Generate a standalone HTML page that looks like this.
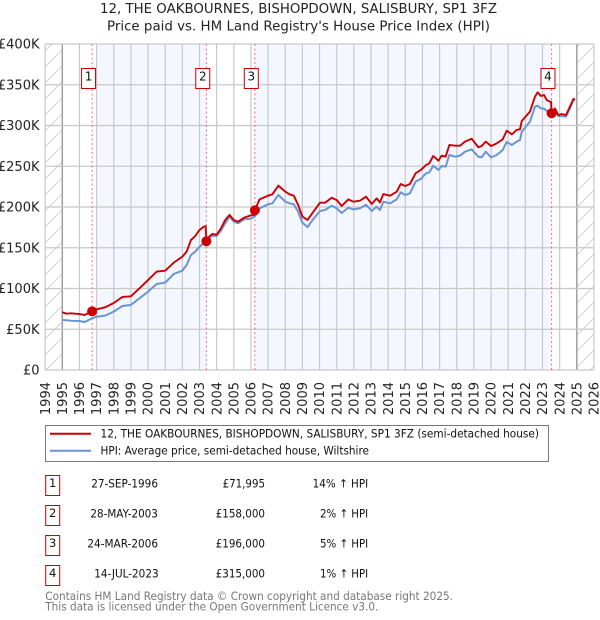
<!DOCTYPE html>
<html lang="en">
<head>
<meta charset="utf-8">
<title>12, THE OAKBOURNES, BISHOPDOWN, SALISBURY, SP1 3FZ</title>
<style>
html,body{margin:0;padding:0;background:#fff;width:600px;height:620px;overflow:hidden}
svg{display:block;font-family:"DejaVu Sans","Liberation Sans",sans-serif}
</style>
</head>
<body>
<svg id="chart" xmlns="http://www.w3.org/2000/svg" width="600" height="620" viewBox="0 0 600 620">
<defs>
<pattern id="hatch" patternUnits="userSpaceOnUse" width="16" height="16">
<path d="M-2 18 L18 -2 M-2 2 L2 -2 M14 18 L18 14" stroke="#d2d2d2" stroke-width="1" fill="none"/>
</pattern>
</defs>
<text x="100" y="13" font-size="13" fill="#222" textLength="397" lengthAdjust="spacingAndGlyphs">12, THE OAKBOURNES, BISHOPDOWN, SALISBURY, SP1 3FZ</text>
<text x="107" y="30.5" font-size="13" fill="#222" textLength="383" lengthAdjust="spacingAndGlyphs">Price paid vs. HM Land Registry's House Price Index (HPI)</text>
<g id="bands"></g>
<g id="hatches"></g>
<g id="grid"></g>
<g id="ylabels"></g>
<g id="xlabels"></g>
<g id="saleLines"></g>
<g id="series"></g>
<g id="saleMarks"></g>

<g>
<rect x="45.5" y="425.5" width="503" height="36" fill="#fff" stroke="#777" stroke-width="1"/>
<line x1="50" x2="91" y1="433.7" y2="433.7" stroke="#cc0000" stroke-width="2"/>
<text x="100.5" y="437.5" font-size="11.5" fill="#111" textLength="438.5" lengthAdjust="spacingAndGlyphs">12, THE OAKBOURNES, BISHOPDOWN, SALISBURY, SP1 3FZ (semi-detached house)</text>
<line x1="50" x2="91" y1="450.7" y2="450.7" stroke="#6a94d4" stroke-width="2"/>
<text x="100.5" y="454.5" font-size="11.5" fill="#111" textLength="268.5" lengthAdjust="spacingAndGlyphs">HPI: Average price, semi-detached house, Wiltshire</text>
</g>

<g font-size="11.5" fill="#111">
<g>
<rect x="45.7" y="475.5" width="14" height="20" fill="#fff" stroke="#cc0000"/>
<text x="52.7" y="487" text-anchor="middle">1</text>
<text x="91.2" y="487.5" textLength="66.8" lengthAdjust="spacingAndGlyphs">27-SEP-1996</text>
<text x="222.6" y="487.5" textLength="42.4" lengthAdjust="spacingAndGlyphs">£71,995</text>
<text x="312.6" y="487.5" textLength="55.6" lengthAdjust="spacingAndGlyphs">14% ↑ HPI</text>
</g>
<g>
<rect x="45.7" y="505.5" width="14" height="20" fill="#fff" stroke="#cc0000"/>
<text x="52.7" y="517" text-anchor="middle">2</text>
<text x="90.4" y="517.5" textLength="67.5" lengthAdjust="spacingAndGlyphs">28-MAY-2003</text>
<text x="215.7" y="517.5" textLength="49.3" lengthAdjust="spacingAndGlyphs">£158,000</text>
<text x="320" y="517.5" textLength="48.2" lengthAdjust="spacingAndGlyphs">2% ↑ HPI</text>
</g>
<g>
<rect x="45.7" y="535.5" width="14" height="20" fill="#fff" stroke="#cc0000"/>
<text x="52.7" y="547" text-anchor="middle">3</text>
<text x="87.4" y="547.5" textLength="70.6" lengthAdjust="spacingAndGlyphs">24-MAR-2006</text>
<text x="215.7" y="547.5" textLength="49.3" lengthAdjust="spacingAndGlyphs">£196,000</text>
<text x="320" y="547.5" textLength="48.2" lengthAdjust="spacingAndGlyphs">5% ↑ HPI</text>
</g>
<g>
<rect x="45.7" y="565.5" width="14" height="20" fill="#fff" stroke="#cc0000"/>
<text x="52.7" y="577" text-anchor="middle">4</text>
<text x="94.3" y="577.5" textLength="64.3" lengthAdjust="spacingAndGlyphs">14-JUL-2023</text>
<text x="215.7" y="577.5" textLength="49.3" lengthAdjust="spacingAndGlyphs">£315,000</text>
<text x="320" y="577.5" textLength="48.2" lengthAdjust="spacingAndGlyphs">1% ↑ HPI</text>
</g>
</g>

<text x="45.3" y="600" font-size="11.5" fill="#777" textLength="407.7" lengthAdjust="spacingAndGlyphs">Contains HM Land Registry data © Crown copyright and database right 2025.</text>
<text x="45.3" y="610.5" font-size="11.5" fill="#777" textLength="333" lengthAdjust="spacingAndGlyphs">This data is licensed under the Open Government Licence v3.0.</text>
</svg>

<script>
const xTickYears = [1994,1995,1996,1997,1998,1999,2000,2001,2002,2003,2004,2005,2006,2007,2008,2009,2010,2011,2012,2013,2014,2015,2016,2017,2018,2019,2020,2021,2022,2023,2024,2025,2026];
const yTickValues = [0,50,100,150,200,250,300,350,400];
const yTickLabels = ['£0','£50K','£100K','£150K','£200K','£250K','£300K','£350K','£400K'];
const saleLabels = ['1','2','3','4'];
const saleDates = [1996.74,2003.40,2006.23,2023.53];
const saleValues = [71.995,158,196,315];
const dates = [1995,1995.25,1995.5,1996,1996.3,1996.74,1997,1997.5,1998,1998.5,1999,1999.5,2000,2000.5,2001,2001.5,2002,2002.25,2002.5,2002.75,2003,2003.25,2003.36,2003.4,2003.6,2003.75,2004,2004.25,2004.5,2004.75,2005,2005.25,2005.6,2006,2006.2,2006.23,2006.5,2007,2007.25,2007.6,2008,2008.25,2008.5,2008.75,2009,2009.3,2009.64,2010.03,2010.32,2010.71,2011,2011.29,2011.68,2011.97,2012.36,2012.71,2013.04,2013.33,2013.52,2013.72,2014.11,2014.5,2014.73,2015,2015.27,2015.6,2015.9,2016.21,2016.4,2016.63,2016.93,2017.12,2017.35,2017.57,2017.9,2018.19,2018.48,2018.87,2019.26,2019.45,2019.69,2020,2020.33,2020.68,2020.91,2021.22,2021.49,2021.69,2021.79,2022.27,2022.56,2022.72,2022.91,2023.09,2023.24,2023.44,2023.5,2023.53,2023.73,2023.92,2024.12,2024.37,2024.6,2024.8,2024.9];
const pricePaid = [70.8,69.1,69.5,68.7,67.5,72,74.4,76.9,82.2,89.6,90.4,100.2,110.4,120.7,121.9,131.7,139.1,145.2,159.5,164.4,171.8,175.9,176.5,158,164.4,166.9,166.1,173.8,184,190.2,184,182,186.9,189.8,190.2,196,209.4,213.9,215.6,226.2,218.9,215.6,213.9,202.5,188.2,184.1,194.3,205.3,205.3,211.4,208.6,201.2,209.4,206.5,207.8,212.7,203.7,210.6,205.7,215.9,213.9,218.8,228.2,225.8,228.2,241.3,245.4,251.5,253.6,262.6,256.8,263,261.7,276.1,275.2,275.2,280.2,283.8,273.2,274.8,280.2,274.8,278.1,283,293.6,289.2,294.5,295.3,305.5,317,335.4,340.7,336.2,337.4,331.3,329.2,329.2,315,321,312.9,314.1,312.9,323.1,332.5,332.1];
const hpiValues = [61.4,61,60.5,60.1,58.9,63.4,65.4,66.7,71.6,78.5,79.8,88,96.1,105.5,107.2,117.8,121.9,128.8,141.1,145.2,151.3,155.4,156.5,157,162.8,164.8,164.4,171,180,188.2,182,180,184.9,185.7,188.2,188.5,198.4,203.3,204.5,214.8,206.6,204.5,203.3,194.3,180.8,175.3,185.3,195.1,196.3,201.6,198.4,192.6,199.2,197.1,198.4,202.8,195.1,200.4,196.3,206.5,204.5,209.4,218,214.7,216.8,231.1,234.4,241.3,242.5,250.7,245.4,250.3,249.5,263.8,261.7,263,267.9,270.7,261.7,260.9,267.9,260.9,263.8,269.9,279.7,276.1,280.2,282.2,292.4,304.7,323.1,324.3,321,320.6,318.2,314.1,313.6,313,317,311.6,311.6,310.8,321,331.3,330.9];

const NS = 'http://www.w3.org/2000/svg';
const xScale = function (t) { return 62.3 + (t - 1995) * 17.15; };
const yScale = function (v) { return 370 - v * 0.815; };
const plotLeft = xScale(1994), plotRight = xScale(2026), plotTop = yScale(400), plotBottom = yScale(0);
const mk = function (tag, parent, attrs) {
  const el = document.createElementNS(NS, tag);
  for (const k in attrs) el.setAttribute(k, attrs[k]);
  document.getElementById(parent).appendChild(el);
  return el;
};

// shaded spans between alternating sale dates
[[1997, saleDates[1]], [saleDates[2], saleDates[3]]].forEach(function (s, i) {
  const el = mk('rect', 'bands', {x: xScale(s[0]), y: plotTop, width: xScale(s[1]) - xScale(s[0]), height: plotBottom - plotTop, fill: '#f4f7ff'});
  
  
});

// hatching outside the data range
[[1994, 1995], [2025, 2026]].forEach(function (s, i) {
  const el = mk('rect', 'hatches', {x: xScale(s[0]), y: plotTop, width: xScale(s[1]) - xScale(s[0]), height: plotBottom - plotTop, fill: 'url(#hatch)'});
  
  
});

// grid and axis labels
xTickYears.forEach(function (yr) {
  const x = xScale(yr);
  const edge = yr === 1995 || yr === 2025;
  const ln = mk('line', 'grid', {x1: x, x2: x, y1: plotTop, y2: plotBottom, stroke: edge ? '#999' : '#c8c8c8', 'stroke-width': edge ? 1.4 : 1.2});
  
  
  const tx = mk('text', 'xlabels', {transform: 'translate(' + (x + 4.6) + ',382) rotate(-90)', 'text-anchor': 'end', 'font-size': 13, fill: '#222'});
  tx.textContent = String(yr);
  
  
});
yTickValues.forEach(function (v, i) {
  const y = yScale(v);
  const ln = mk('line', 'grid', {x1: plotLeft, x2: plotRight, y1: y, y2: y, stroke: '#c8c8c8', 'stroke-width': 1.2});
  
  
  const tx = mk('text', 'ylabels', {x: 39.5, y: y + 4.5, 'text-anchor': 'end', 'font-size': 13, fill: '#222'});
  tx.textContent = yTickLabels[i];
  
  
});

// sale date lines
saleDates.forEach(function (t, i) {
  const x = xScale(t);
  const ln = mk('line', 'saleLines', {x1: x, x2: x, y1: plotTop, y2: plotBottom, stroke: '#ee5566', 'stroke-width': 1, 'stroke-dasharray': '2 2.5', opacity: 0.85});
  
  
});

// series
const toPath = function (vals) {
  return vals.map(function (v, i) { return (i ? 'L' : 'M') + xScale(dates[i]).toFixed(2) + ' ' + yScale(v).toFixed(2); }).join(' ');
};
const hpiLine = mk('path', 'series', {d: toPath(hpiValues), fill: 'none', stroke: '#6a94d4', 'stroke-width': 2, 'stroke-linejoin': 'round'});


const priceLine = mk('path', 'series', {d: toPath(pricePaid), fill: 'none', stroke: '#cc0000', 'stroke-width': 1.9, 'stroke-linejoin': 'round'});



// sale markers and number boxes
saleDates.forEach(function (t, i) {
  const x = xScale(t);
  const dot = mk('circle', 'saleMarks', {cx: x, cy: yScale(saleValues[i]), r: 5, fill: '#cc0000'});
  
  
  const box = mk('rect', 'saleMarks', {x: x - 10.6, y: 68.5, width: 14, height: 20, fill: '#fff', stroke: '#cc0000', 'stroke-width': 1});
  
  
  const tx = mk('text', 'saleMarks', {x: x - 3.6, y: 80.5, 'text-anchor': 'middle', 'font-size': 12, fill: '#111'});
  tx.textContent = saleLabels[i];
  
  
});
</script>
</body>
</html>
